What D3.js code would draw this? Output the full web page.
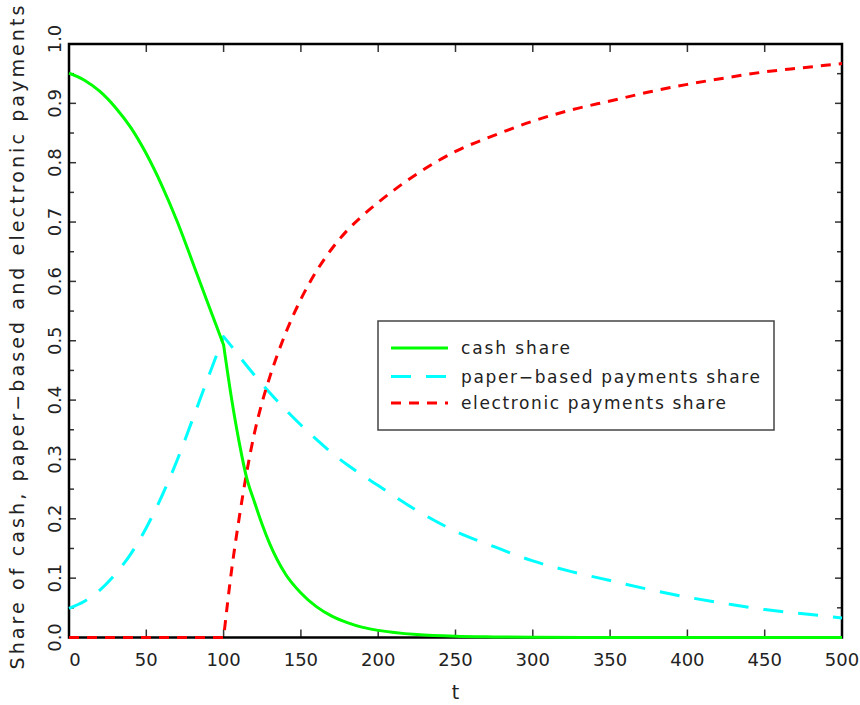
<!DOCTYPE html>
<html>
<head>
<meta charset="utf-8">
<script src="https://cdn.jsdelivr.net/npm/d3@7/dist/d3.min.js"></script>
<style>
  html, body { margin: 0; padding: 0; background: #fff; }
  svg { display: block; }
  text { font-family: "DejaVu Sans", sans-serif; fill: #222; }
</style>
</head>
<body>
<svg id="chart" width="860" height="705"></svg>
<script>
// ---- data ----
const cashT  = [0, 10, 20, 30, 40, 50, 60, 70, 80, 90, 100, 105, 110, 115, 120, 125, 130, 140, 150, 160, 170, 180, 190, 200, 225, 250, 275, 300, 350, 400, 450, 500];
const cashV  = [0.951, 0.939, 0.920, 0.893, 0.859, 0.815, 0.762, 0.701, 0.632, 0.562, 0.493, 0.405, 0.330, 0.268, 0.228, 0.190, 0.157, 0.107, 0.075, 0.052, 0.036, 0.025, 0.017, 0.012, 0.005, 0.002, 0.001, 0.0005, 0, 0, 0, 0];

const paperT = [0, 10, 20, 30, 40, 50, 60, 70, 80, 90, 100, 105, 110, 120, 130, 140, 150, 160, 170, 180, 190, 200, 225, 250, 275, 300, 325, 350, 375, 400, 425, 450, 475, 500];
const paperV = [0.049, 0.061, 0.080, 0.107, 0.141, 0.185, 0.238, 0.299, 0.368, 0.438, 0.507, 0.491, 0.474, 0.442, 0.412, 0.384, 0.358, 0.334, 0.311, 0.291, 0.273, 0.256, 0.214, 0.179, 0.153, 0.129, 0.111, 0.096, 0.081, 0.068, 0.057, 0.047, 0.040, 0.033];

const elecT  = [0, 50, 100, 105, 110, 115, 120, 125, 130, 140, 150, 160, 170, 180, 190, 200, 225, 250, 275, 300, 325, 350, 375, 400, 425, 450, 475, 500];
const elecV  = [0, 0, 0, 0.110, 0.200, 0.279, 0.345, 0.397, 0.440, 0.512, 0.570, 0.617, 0.655, 0.686, 0.711, 0.733, 0.781, 0.819, 0.846, 0.870, 0.889, 0.904, 0.919, 0.932, 0.943, 0.953, 0.960, 0.967];

const breakT = 100; // regime switch where the curves have a corner

const xTicks = [0, 50, 100, 150, 200, 250, 300, 350, 400, 450, 500];
const yTicks = [0.0, 0.1, 0.2, 0.3, 0.4, 0.5, 0.6, 0.7, 0.8, 0.9, 1.0];
const yMinorTicks = [0.05, 0.15, 0.25, 0.35, 0.45, 0.55, 0.65, 0.75, 0.85, 0.95];
const seriesNames = ["cash share", "paper\u2212based payments share", "electronic payments share"];
const xTitle = "t";
const yTitle = "Share of cash, paper\u2212based and electronic payments";

// ---- layout ----
const L = 69, R = 842, T = 44, B = 637.5;
const svg = d3.select("#chart");
const x = d3.scaleLinear().domain([0, 500]).range([L, R]);
const y = d3.scaleLinear().domain([0, 1]).range([B, T]);

// ticks (inward) on all four sides
const tickCol = "#333";
const g = svg.append("g");
xTicks.forEach(t => {
  if (t === 0 || t === 500) return;
  g.append("line").attr("x1", x(t)).attr("x2", x(t)).attr("y1", B).attr("y2", B - 8)
    .attr("stroke", tickCol).attr("stroke-width", 1.5);
  g.append("line").attr("x1", x(t)).attr("x2", x(t)).attr("y1", T).attr("y2", T + 8)
    .attr("stroke", tickCol).attr("stroke-width", 1.5);
});
yTicks.forEach(v => {
  if (v === 0 || v === 1) return;
  g.append("line").attr("x1", L).attr("x2", L + 7).attr("y1", y(v)).attr("y2", y(v))
    .attr("stroke", tickCol).attr("stroke-width", 1.5);
  g.append("line").attr("x1", R).attr("x2", R - 7).attr("y1", y(v)).attr("y2", y(v))
    .attr("stroke", tickCol).attr("stroke-width", 1.5);
});
yMinorTicks.forEach(v => {
  g.append("line").attr("x1", L).attr("x2", L + 5).attr("y1", y(v)).attr("y2", y(v))
    .attr("stroke", tickCol).attr("stroke-width", 1.5);
  g.append("line").attr("x1", R).attr("x2", R - 5).attr("y1", y(v)).attr("y2", y(v))
    .attr("stroke", tickCol).attr("stroke-width", 1.5);
});

// frame
svg.append("rect").attr("x", L).attr("y", T).attr("width", R - L).attr("height", B - T)
  .attr("fill", "none").attr("stroke", "#000").attr("stroke-width", 2.5);

// tick labels
xTicks.forEach(t => {
  svg.append("text").attr("x", x(t) + (t === 0 ? 6 : 0)).attr("y", 666)
    .attr("text-anchor", "middle").attr("font-size", 18).text(t);
});
yTicks.forEach(v => {
  const yy = y(v) - (v === 1 ? 5 : 0);
  svg.append("text").attr("transform", `translate(61,${yy}) rotate(-90)`)
    .attr("text-anchor", "middle").attr("font-size", 18).text(v.toFixed(1));
});

// axis titles
svg.append("text").attr("x", (L + R) / 2).attr("y", 699).attr("text-anchor", "middle")
  .attr("font-size", 19).text(xTitle);
svg.append("text").attr("transform", `translate(24,337.5) rotate(-90)`)
  .attr("text-anchor", "middle").attr("font-size", 19)
  .attr("textLength", 664).attr("lengthAdjust", "spacing").text(yTitle);

// lines: smooth on each side of the regime switch, with a corner at breakT
const line = d3.line().x(d => x(d[0])).y(d => y(d[1])).curve(d3.curveMonotoneX);
function pathWithCorner(ts, vs) {
  const pts = ts.map((t, i) => [t, vs[i]]);
  const pre = pts.filter(d => d[0] <= breakT);
  const post = pts.filter(d => d[0] >= breakT);
  return line(pre) + line(post).replace(/^M/, "L");
}

const styles = [
  { d: pathWithCorner(cashT, cashV),   color: "#00ff00", dash: null },
  { d: pathWithCorner(paperT, paperV), color: "#00ffff", dash: "20,15" },
  { d: pathWithCorner(elecT, elecV),   color: "#ff0000", dash: "10,8" }
];
[styles[1], styles[2], styles[0]].forEach(s => {
  svg.append("path").attr("d", s.d)
    .attr("fill", "none").attr("stroke", s.color).attr("stroke-width", 3)
    .attr("stroke-linejoin", "round")
    .attr("stroke-dasharray", s.dash);
});

// legend
const lg = svg.append("g");
lg.append("rect").attr("x", 378).attr("y", 321).attr("width", 396).attr("height", 109)
  .attr("fill", "#fff").attr("stroke", "#444").attr("stroke-width", 1.5);
const rowsY = [348, 376.5, 403];
const legendTextLen = [109, 299, 265];
styles.forEach((s, i) => {
  lg.append("line").attr("x1", 391).attr("x2", 448).attr("y1", rowsY[i]).attr("y2", rowsY[i])
    .attr("stroke", s.color).attr("stroke-width", 3).attr("stroke-dasharray", s.dash);
  lg.append("text").attr("x", 461).attr("y", rowsY[i] + 6).attr("font-size", 17)
    .attr("textLength", legendTextLen[i]).attr("lengthAdjust", "spacing").text(seriesNames[i]);
});
</script>
</body>
</html>
